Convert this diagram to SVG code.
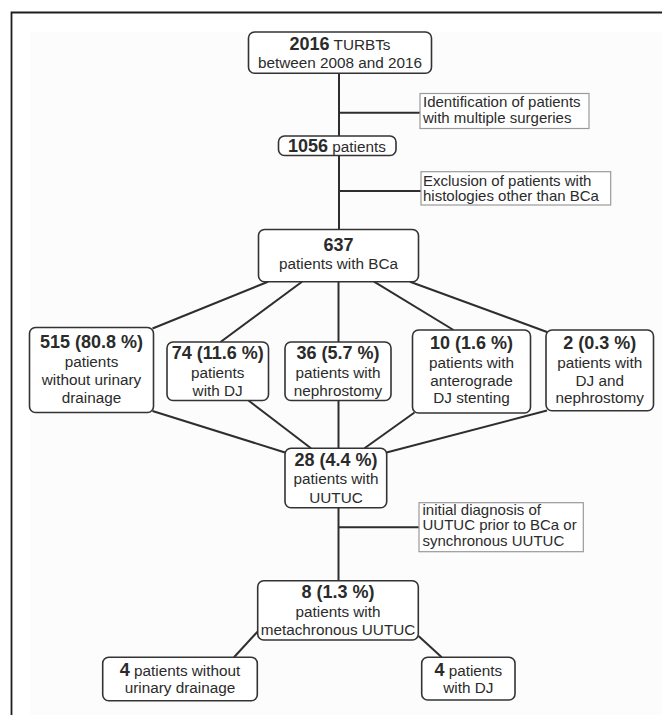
<svg xmlns="http://www.w3.org/2000/svg" width="662" height="715" viewBox="0 0 662 715">
<style>
.bg{fill:#fcfcfc}
.frame{fill:none;stroke:#1e1e1e;stroke-width:1.8}
.box{fill:#fff;stroke:#333;stroke-width:1.6}
.note{fill:#fff;stroke:#9a9a9a;stroke-width:1.2}
.conn line,.conn path{stroke:#2e2e2e;stroke-width:2;fill:none}
text{font-family:"Liberation Sans",Arial,sans-serif;fill:#2b2b2b}
.c{text-anchor:middle;font-size:15.3px}
.l{text-anchor:start;font-size:15px}
.b{font-weight:bold;font-size:18px}
</style>
<rect class="bg" x="30" y="32" width="632" height="683"/>
<path class="frame" d="M11.5 715 V12.5 H662"/>
<g id="connectors" class="conn">
<line x1="339" y1="73" x2="339" y2="229.5"/>
<line x1="339" y1="112.7" x2="420" y2="112.7"/>
<line x1="339" y1="191" x2="421" y2="191"/>
<line x1="268" y1="281.7" x2="152.5" y2="328.5"/>
<line x1="302" y1="281.7" x2="220.5" y2="342"/>
<line x1="338.5" y1="281.7" x2="338.5" y2="448.3"/>
<line x1="374" y1="281.7" x2="453.5" y2="330"/>
<line x1="410" y1="281.7" x2="547" y2="332"/>
<line x1="152.5" y1="411" x2="285" y2="452.5"/>
<line x1="248.5" y1="400.5" x2="311" y2="448.3"/>
<line x1="414.5" y1="412.5" x2="364.5" y2="448.3"/>
<line x1="547" y1="410.5" x2="386.5" y2="452.5"/>
<line x1="338.5" y1="507.7" x2="338.5" y2="580.7"/>
<line x1="338.5" y1="527.3" x2="419" y2="527.3"/>
<line x1="257.5" y1="631.7" x2="234" y2="657.3"/>
<line x1="418.5" y1="636" x2="441.7" y2="657.3"/>
</g>
<g id="n-turbts">
<rect class="box" x="248.5" y="32" width="183" height="41.3" rx="6"/>
<text class="c" x="340" y="49.5"><tspan class="b">2016</tspan> TURBTs</text>
<text class="c" x="340" y="68">between 2008 and 2016</text>
</g>
<g id="note-identification">
<rect class="note" x="420" y="93.5" width="169" height="35"/>
<text class="l" x="423" y="107">Identification of patients</text>
<text class="l" x="423" y="123">with multiple surgeries</text>
</g>
<g id="n-1056">
<rect class="box" x="278.5" y="136" width="117.5" height="19.5" rx="6"/>
<text class="c" x="337" y="151.5"><tspan class="b">1056</tspan> patients</text>
</g>
<g id="note-exclusion">
<rect class="note" x="421" y="171.7" width="189.7" height="33.3"/>
<text class="l" x="423" y="185.7">Exclusion of patients with</text>
<text class="l" x="423" y="201">histologies other than BCa</text>
</g>
<g id="n-637">
<rect class="box" x="258.5" y="229.5" width="160" height="52.2" rx="6"/>
<text class="c b" x="338.5" y="250.5">637</text>
<text class="c" x="338.5" y="268.5">patients with BCa</text>
</g>
<g id="n-515">
<rect class="box" x="29.5" y="327.5" width="124" height="85" rx="6"/>
<text class="c b" x="91.5" y="348.3">515 (80.8 %)</text>
<text class="c" x="91.5" y="366.7">patients</text>
<text class="c" x="91.5" y="385">without urinary</text>
<text class="c" x="91.5" y="402.7">drainage</text>
</g>
<g id="n-74">
<rect class="box" x="167" y="342" width="101.5" height="58.5" rx="6"/>
<text class="c b" x="217.7" y="359.3">74 (11.6 %)</text>
<text class="c" x="217.7" y="378">patients</text>
<text class="c" x="217.7" y="396">with DJ</text>
</g>
<g id="n-36">
<rect class="box" x="285" y="342" width="106" height="58.5" rx="6"/>
<text class="c b" x="338" y="359.3">36 (5.7 %)</text>
<text class="c" x="338" y="378">patients with</text>
<text class="c" x="338" y="396">nephrostomy</text>
</g>
<g id="n-10">
<rect class="box" x="412.5" y="330" width="118" height="83" rx="6"/>
<text class="c b" x="471.5" y="349.3">10 (1.6 %)</text>
<text class="c" x="471.5" y="367.7">patients with</text>
<text class="c" x="471.5" y="385.7">anterograde</text>
<text class="c" x="471.5" y="403.3">DJ stenting</text>
</g>
<g id="n-2">
<rect class="box" x="546" y="330" width="107.5" height="80.7" rx="6"/>
<text class="c b" x="599.7" y="349.3">2 (0.3 %)</text>
<text class="c" x="599.7" y="367.7">patients with</text>
<text class="c" x="599.7" y="385.7">DJ and</text>
<text class="c" x="599.7" y="403.3">nephrostomy</text>
</g>
<g id="n-28">
<rect class="box" x="285" y="448.3" width="101.7" height="59.4" rx="6"/>
<text class="c b" x="336" y="466">28 (4.4 %)</text>
<text class="c" x="336" y="484.3">patients with</text>
<text class="c" x="336" y="502.7">UUTUC</text>
</g>
<g id="note-initial">
<rect class="note" x="419" y="502.7" width="164.3" height="49"/>
<text class="l" x="422.5" y="514.5">initial diagnosis of</text>
<text class="l" x="422.5" y="530">UUTUC prior to BCa or</text>
<text class="l" x="422.5" y="546">synchronous UUTUC</text>
</g>
<g id="n-8">
<rect class="box" x="257.7" y="580.7" width="160.6" height="59.3" rx="6"/>
<text class="c b" x="338" y="598.3">8 (1.3 %)</text>
<text class="c" x="338" y="616.7">patients with</text>
<text class="c" x="338" y="635">metachronous UUTUC</text>
</g>
<g id="n-4-none">
<rect class="box" x="102.7" y="657.3" width="154.6" height="43.4" rx="6"/>
<text class="c" x="180" y="676"><tspan class="b">4</tspan> patients without</text>
<text class="c" x="180" y="693.3">urinary drainage</text>
</g>
<g id="n-4-dj">
<rect class="box" x="421.7" y="657.3" width="93.3" height="42.7" rx="6"/>
<text class="c" x="468.3" y="676"><tspan class="b">4</tspan> patients</text>
<text class="c" x="468.3" y="693.3">with DJ</text>
</g>
</svg>
